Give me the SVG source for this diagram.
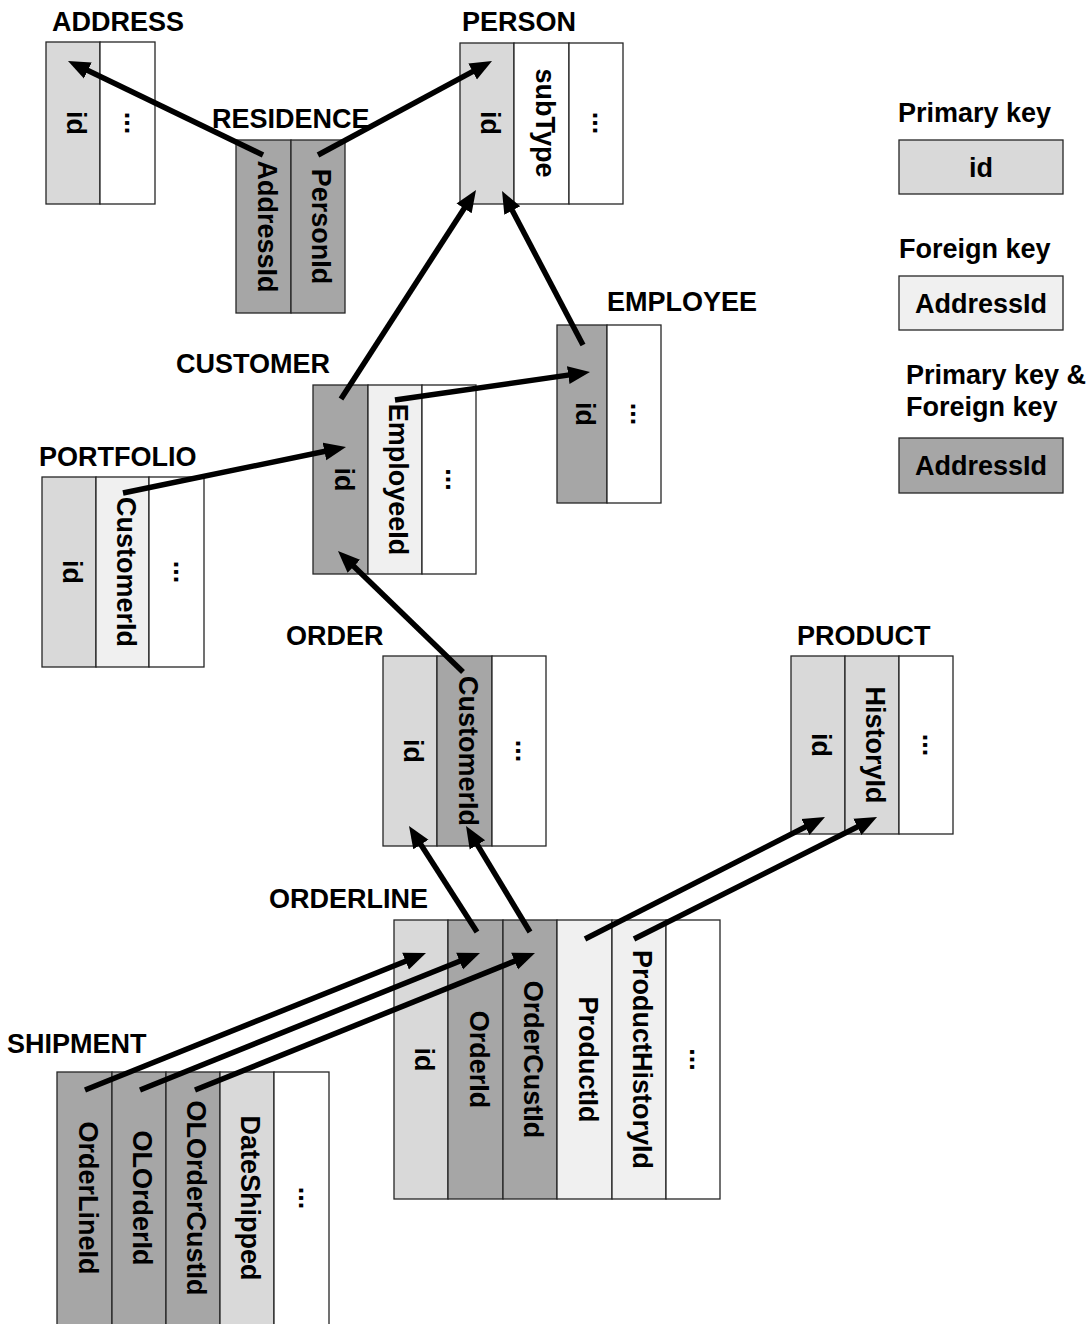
<svg xmlns="http://www.w3.org/2000/svg" width="1091" height="1324" viewBox="0 0 1091 1324">
<defs>
<style>
text{font-family:"Liberation Sans",Arial,sans-serif;font-weight:bold;font-size:27px;fill:#000}
.t{text-anchor:start}
.v{text-anchor:middle}
.c{text-anchor:middle}
.n rect{stroke:#262626;stroke-width:1.3}
.pk{fill:#d9d9d9}
.fk{fill:#f0f0f0}
.pf{fill:#a6a6a6}
.no{fill:#ffffff}
.conn line{stroke:#000;stroke-width:5.5;marker-end:url(#ah)}
</style>
<marker id="ah" markerUnits="userSpaceOnUse" markerWidth="24" markerHeight="20" viewBox="0 -10 24 20" refX="12" refY="0" orient="auto">
<path d="M0,-9 L22,0 L0,9 z" fill="#000"/>
</marker>
</defs>
<rect x="0" y="0" width="1091" height="1324" fill="#fff"/>

<g id="address" class="n">
<text class="t" x="52" y="31">ADDRESS</text>
<rect class="pk" x="46" y="42" width="54" height="162"/>
<rect class="no" x="100" y="42" width="55" height="162"/>
<text class="v" transform="translate(67,123) rotate(90)">id</text>
<text class="v" transform="translate(125,123) rotate(90)">...</text>
</g>

<g id="person" class="n">
<text class="t" x="462" y="31">PERSON</text>
<rect class="pk" x="460" y="43" width="54" height="161"/>
<rect class="no" x="514" y="43" width="55" height="161"/>
<rect class="no" x="569" y="43" width="54" height="161"/>
<text class="v" transform="translate(481,123) rotate(90)">id</text>
<text class="v" transform="translate(535.5,123) rotate(90)">subType</text>
<text class="v" transform="translate(593,123) rotate(90)">...</text>
</g>

<g id="residence" class="n">
<text class="t" x="212" y="128">RESIDENCE</text>
<rect class="pf" x="236" y="140" width="55" height="173"/>
<rect class="pf" x="291" y="140" width="54" height="173"/>
<text class="v" transform="translate(257.5,226.5) rotate(90)">AddressId</text>
<text class="v" transform="translate(312,226.5) rotate(90)">PersonId</text>
</g>

<g id="employee" class="n">
<text class="t" x="607" y="311">EMPLOYEE</text>
<rect class="pf" x="557" y="325" width="50" height="178"/>
<rect class="no" x="607" y="325" width="54" height="178"/>
<text class="v" transform="translate(576,414) rotate(90)">id</text>
<text class="v" transform="translate(631,414) rotate(90)">...</text>
</g>

<g id="customer" class="n">
<text class="t" x="176" y="373">CUSTOMER</text>
<rect class="pf" x="313" y="385" width="55" height="189"/>
<rect class="fk" x="368" y="385" width="54" height="189"/>
<rect class="no" x="422" y="385" width="54" height="189"/>
<text class="v" transform="translate(334.5,479.5) rotate(90)">id</text>
<text class="v" transform="translate(389,479.5) rotate(90)">EmployeeId</text>
<text class="v" transform="translate(446,479.5) rotate(90)">...</text>
</g>

<g id="portfolio" class="n">
<text class="t" x="39" y="466">PORTFOLIO</text>
<rect class="pk" x="42" y="477" width="54" height="190"/>
<rect class="fk" x="96" y="477" width="53" height="190"/>
<rect class="no" x="149" y="477" width="55" height="190"/>
<text class="v" transform="translate(63,572) rotate(90)">id</text>
<text class="v" transform="translate(116.5,572) rotate(90)">CustomerId</text>
<text class="v" transform="translate(174,572) rotate(90)">...</text>
</g>

<g id="order" class="n">
<text class="t" x="286" y="645">ORDER</text>
<rect class="pk" x="383" y="656" width="54" height="190"/>
<rect class="pf" x="437" y="656" width="55" height="190"/>
<rect class="no" x="492" y="656" width="54" height="190"/>
<text class="v" transform="translate(404,751) rotate(90)">id</text>
<text class="v" transform="translate(458.5,751) rotate(90)">CustomerId</text>
<text class="v" transform="translate(516,751) rotate(90)">...</text>
</g>

<g id="product" class="n">
<text class="t" x="797" y="645">PRODUCT</text>
<rect class="pk" x="791" y="656" width="54" height="178"/>
<rect class="pk" x="845" y="656" width="54" height="178"/>
<rect class="no" x="899" y="656" width="54" height="178"/>
<text class="v" transform="translate(812,745) rotate(90)">id</text>
<text class="v" transform="translate(866,745) rotate(90)">HistoryId</text>
<text class="v" transform="translate(923,745) rotate(90)">...</text>
</g>

<g id="orderline" class="n">
<text class="t" x="269" y="908">ORDERLINE</text>
<rect class="pk" x="394" y="920" width="54" height="279"/>
<rect class="pf" x="448" y="920" width="55" height="279"/>
<rect class="pf" x="503" y="920" width="54" height="279"/>
<rect class="fk" x="557" y="920" width="55" height="279"/>
<rect class="fk" x="612" y="920" width="54" height="279"/>
<rect class="no" x="666" y="920" width="54" height="279"/>
<text class="v" transform="translate(415,1059.5) rotate(90)">id</text>
<text class="v" transform="translate(469.5,1059.5) rotate(90)">OrderId</text>
<text class="v" transform="translate(524,1059.5) rotate(90)">OrderCustId</text>
<text class="v" transform="translate(578.5,1059.5) rotate(90)">ProductId</text>
<text class="v" transform="translate(633,1059.5) rotate(90)">ProductHistoryId</text>
<text class="v" transform="translate(690,1059.5) rotate(90)">...</text>
</g>

<g id="shipment" class="n">
<text class="t" x="7" y="1053">SHIPMENT</text>
<rect class="pf" x="57" y="1072" width="55" height="254"/>
<rect class="pf" x="112" y="1072" width="54" height="254"/>
<rect class="pf" x="166" y="1072" width="54" height="254"/>
<rect class="pk" x="220" y="1072" width="54" height="254"/>
<rect class="no" x="274" y="1072" width="55" height="254"/>
<text class="v" transform="translate(78.5,1198) rotate(90)">OrderLineId</text>
<text class="v" transform="translate(133,1198) rotate(90)">OLOrderId</text>
<text class="v" transform="translate(187,1198) rotate(90)">OLOrderCustId</text>
<text class="v" transform="translate(241,1198) rotate(90)">DateShipped</text>
<text class="v" transform="translate(298.5,1198) rotate(90)">...</text>
</g>

<g id="legend" class="n">
<text class="t" x="898" y="122">Primary key</text>
<rect class="pk" x="899" y="140" width="164" height="54"/>
<text class="c" x="981" y="176.5">id</text>
<text class="t" x="899" y="258">Foreign key</text>
<rect class="fk" x="899" y="276" width="164" height="54"/>
<text class="c" x="981" y="312.5">AddressId</text>
<text class="t" x="906" y="384">Primary key &amp;</text>
<text class="t" x="906" y="416">Foreign key</text>
<rect class="pf" x="899" y="438" width="164" height="55"/>
<text class="c" x="981" y="475">AddressId</text>
</g>

<g class="conn" id="connectors">
<line x1="263" y1="155" x2="77" y2="65.3"/>
<line x1="318" y1="155" x2="483.2" y2="65.8"/>
<line x1="341" y1="399" x2="470.6" y2="198.4"/>
<line x1="583" y1="345" x2="506.7" y2="199.9"/>
<line x1="395" y1="400" x2="580.1" y2="373.4"/>
<line x1="123" y1="493" x2="336.2" y2="449"/>
<line x1="463" y1="672" x2="345.2" y2="558"/>
<line x1="477" y1="932" x2="414.4" y2="834.4"/>
<line x1="530" y1="932" x2="471.2" y2="834.6"/>
<line x1="585" y1="939" x2="816.1" y2="821.5"/>
<line x1="634" y1="939" x2="868.1" y2="821.5"/>
<line x1="85" y1="1090" x2="416.7" y2="956.7"/>
<line x1="140" y1="1090" x2="470.7" y2="956.7"/>
<line x1="195" y1="1090" x2="525.7" y2="956.7"/>
</g>
</svg>
